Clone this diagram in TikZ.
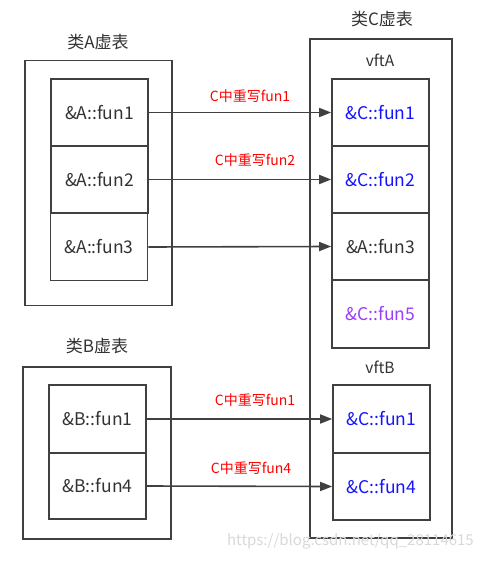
\documentclass[tikz,border=0pt]{standalone}
\usepackage{fontspec}
\setmainfont{Noto Sans CJK SC}
\usetikzlibrary{arrows.meta}
\definecolor{txt}{HTML}{333333}
\definecolor{bord}{HTML}{404040}
\definecolor{cblue}{HTML}{1414FF}
\definecolor{cpurp}{HTML}{9B3CFF}
\definecolor{cred}{HTML}{FF0000}
\tikzset{
  outerbox/.style={draw=bord, line width=1.6pt, inner sep=0pt},
  cell/.style={draw=bord, line width=1.6pt, minimum width=97pt, minimum height=67pt, inner sep=0pt, text=txt, font=\fontsize{17.5}{19}\selectfont},
  title/.style={text=txt, font=\fontsize{17}{19}\selectfont, inner sep=0pt},
  sub/.style={text=txt, font=\fontsize{15.5}{17}\selectfont, inner sep=0pt},
  conn/.style={draw=bord, line width=1.6pt, -{Triangle[length=12pt,width=9pt]}},
  redlbl/.style={text=cred, font=\fontsize{14}{16}\selectfont, inner sep=0pt},
}
\begin{document}
\begin{tikzpicture}[x=1pt,y=-1pt]
\useasboundingbox (0,0) rectangle (484,561);
\fill[white] (0,0) rectangle (484,561);
% outer boxes
\node[outerbox, minimum width=147pt, minimum height=245pt] (outerA) at (98.5,183) {};
\node[outerbox, minimum width=148pt, minimum height=172pt] (outerB) at (97,453) {};
\node[outerbox, minimum width=142pt, minimum height=499pt] (outerC) at (381,288.5) {};
% titles
\node[title] (tA) at (98,42) {类A虚表};
\node[title] (tB) at (97,346) {类B虚表};
\node[title] (tC) at (382,19) {类C虚表};
\node[sub] (vA) at (380,60) {vftA};
\node[sub] (vB) at (380,367) {vftB};
% A cells
\node[cell] (a1) at (99.5,112.5) {\&A::fun1};
\node[cell] (a2) at (99.5,179.5) {\&A::fun2};
\node[cell] (a3) at (99,247) {\&A::fun3};
% B cells
\node[cell, minimum height=68pt] (b1) at (97.5,419) {\&B::fun1};
\node[cell, minimum height=66pt] (b4) at (97.5,486) {\&B::fun4};
% C cells
\node[cell, text=cblue] (c1) at (380.5,112.5) {\&C::fun1};
\node[cell, text=cblue] (c2) at (380.5,179.5) {\&C::fun2};
\node[cell] (c3) at (380.5,246.5) {\&A::fun3};
\node[cell, minimum height=68pt, text=cpurp] (c5) at (380.5,314) {\&C::fun5};
\node[cell, minimum height=68pt, text=cblue] (cb1) at (381.5,419) {\&C::fun1};
\node[cell, text=cblue] (cb4) at (381.5,486.5) {\&C::fun4};
% connectors
\draw[conn] (a1.east) -- (c1.west);
\draw[conn] (a2.east) -- (c2.west);
\draw[conn] (a3.east) -- (c3.west);
\draw[conn] (b1.east) -- (cb1.west);
\draw[conn] (b4.east) -- (cb4.west);
% labels
\node[redlbl] (l1) at (250,96) {C中重写fun1};
\node[redlbl] (l2) at (255,160) {C中重写fun2};
\node[redlbl] (l3) at (255,400) {C中重写fun1};
\node[redlbl] (l4) at (251,468) {C中重写fun4};
% watermark
\node[text=gray!30, font=\fontsize{15}{17}\selectfont, inner sep=0pt, anchor=east] (wm) at (474,541) {https://blog.csdn.net/qq\_28114615};
\end{tikzpicture}
\end{document}
